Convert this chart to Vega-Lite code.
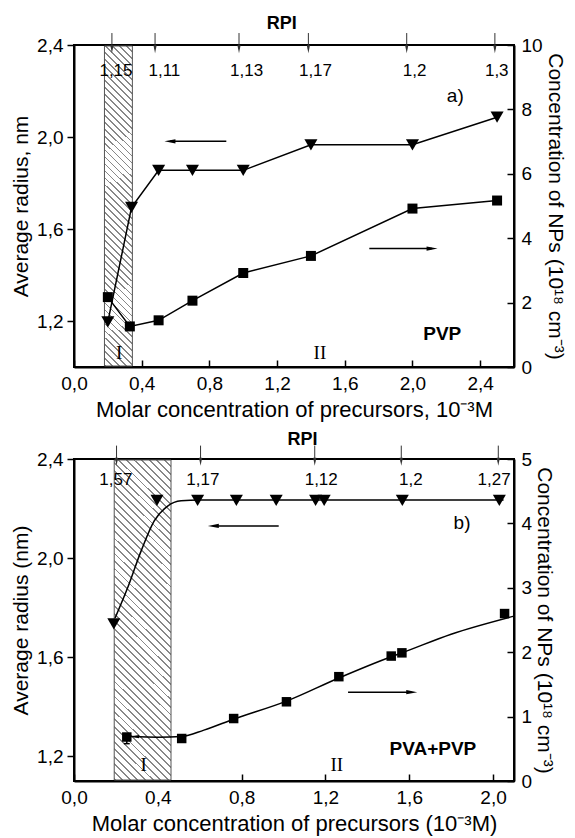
{
"$schema": "https://vega.github.io/schema/vega-lite/v6.json",
"background": "white",
"padding": {"left": 9, "top": 14, "right": 2, "bottom": 2},
"spacing": 92,
"bounds": "flush",
"config": {
 "font": "Liberation Sans",
 "view": {"stroke": "black", "strokeWidth": 2, "fill": "white"},
 "axis": {"domainColor": "black", "domainWidth": 2, "tickColor": "black", "tickWidth": 1.5, "labelColor": "black", "titleColor": "black", "labelFont": "Liberation Sans", "titleFont": "Liberation Sans", "labelFontSize": 19, "titleFontSize": 21, "titleFontWeight": "normal", "grid": false, "labelFlush": false, "labelOverlap": false, "zindex": 1},
 "text": {"font": "Liberation Sans", "color": "black"}
},
"datasets": {
 "triA": [{"c":0.2,"r":1.196},{"c":0.34,"r":1.694},{"c":0.5,"r":1.855},{"c":0.7,"r":1.855},{"c":1.0,"r":1.855},{"c":1.4,"r":1.966},{"c":2.0,"r":1.966},{"c":2.5,"r":2.086}],
 "sqA": [{"c":0.2,"n":2.17},{"c":0.33,"n":1.26},{"c":0.5,"n":1.45},{"c":0.7,"n":2.06},{"c":1.0,"n":2.92},{"c":1.4,"n":3.45},{"c":2.0,"n":4.92},{"c":2.5,"n":5.17}],
 "rpiA": [{"x":0.224,"lx":0.248,"label":"1,15"},{"x":0.479,"lx":0.534,"label":"1,11"},{"x":0.975,"lx":1.02,"label":"1,13"},{"x":1.385,"lx":1.427,"label":"1,17"},{"x":1.966,"lx":2.013,"label":"1,2"},{"x":2.487,"lx":2.498,"label":"1,3"}],
 "triB": [{"c":0.19,"r":1.734},{"c":0.396,"r":2.233},{"c":0.59,"r":2.233},{"c":0.775,"r":2.233},{"c":0.965,"r":2.233},{"c":1.153,"r":2.233},{"c":1.194,"r":2.233},{"c":1.567,"r":2.233},{"c":2.03,"r":2.233}],
 "triFitB": [{"c":0.196,"r":1.758},{"c":0.256,"r":1.88},{"c":0.32,"r":2.028},{"c":0.383,"r":2.15},{"c":0.447,"r":2.21},{"c":0.511,"r":2.231},{"c":0.6,"r":2.234},{"c":2.05,"r":2.234}],
 "sqB": [{"c":0.252,"n":0.683},{"c":0.514,"n":0.66},{"c":0.762,"n":0.97},{"c":1.014,"n":1.23},{"c":1.264,"n":1.62},{"c":1.514,"n":1.94},{"c":1.565,"n":1.99},{"c":2.055,"n":2.6}],
 "sqFitB": [{"c":0.272,"n":0.69},{"c":0.4,"n":0.68},{"c":0.514,"n":0.69},{"c":0.62,"n":0.79},{"c":0.762,"n":0.96},{"c":1.014,"n":1.24},{"c":1.264,"n":1.6},{"c":1.514,"n":1.93},{"c":1.565,"n":1.99},{"c":1.8,"n":2.28},{"c":2.1,"n":2.56}],
 "rpiB": [{"x":0.203,"lx":0.2,"label":"1,57"},{"x":0.604,"lx":0.615,"label":"1,17"},{"x":1.149,"lx":1.18,"label":"1,12"},{"x":1.562,"lx":1.608,"label":"1,2"},{"x":2.025,"lx":2.005,"label":"1,27"}]
},
"vconcat": [
{
 "width": 440, "height": 322,
 "layer": [
  {"layer": [
   {"data": {"values": [{"s":0.18,"e":0.345}]},
    "mark": {"type": "rect", "stroke": "#555", "strokeWidth": 1, "fill": {"gradient": "linear", "x1": 0, "y1": 1, "x2": 0.1117, "y2": -0.294, "stops": [
{"offset":0,"color":"#888"},{"offset":0.0042,"color":"#888"},{"offset":0.0042,"color":"#fff"},{"offset":0.0167,"color":"#fff"},
{"offset":0.0167,"color":"#888"},{"offset":0.0208,"color":"#888"},{"offset":0.0208,"color":"#fff"},{"offset":0.0333,"color":"#fff"},
{"offset":0.0333,"color":"#888"},{"offset":0.0375,"color":"#888"},{"offset":0.0375,"color":"#fff"},{"offset":0.05,"color":"#fff"},
{"offset":0.05,"color":"#888"},{"offset":0.0542,"color":"#888"},{"offset":0.0542,"color":"#fff"},{"offset":0.0667,"color":"#fff"},
{"offset":0.0667,"color":"#888"},{"offset":0.0708,"color":"#888"},{"offset":0.0708,"color":"#fff"},{"offset":0.0833,"color":"#fff"},
{"offset":0.0833,"color":"#888"},{"offset":0.0875,"color":"#888"},{"offset":0.0875,"color":"#fff"},{"offset":0.1,"color":"#fff"},
{"offset":0.1,"color":"#888"},{"offset":0.1042,"color":"#888"},{"offset":0.1042,"color":"#fff"},{"offset":0.1167,"color":"#fff"},
{"offset":0.1167,"color":"#888"},{"offset":0.1208,"color":"#888"},{"offset":0.1208,"color":"#fff"},{"offset":0.1333,"color":"#fff"},
{"offset":0.1333,"color":"#888"},{"offset":0.1375,"color":"#888"},{"offset":0.1375,"color":"#fff"},{"offset":0.15,"color":"#fff"},
{"offset":0.15,"color":"#888"},{"offset":0.1542,"color":"#888"},{"offset":0.1542,"color":"#fff"},{"offset":0.1667,"color":"#fff"},
{"offset":0.1667,"color":"#888"},{"offset":0.1708,"color":"#888"},{"offset":0.1708,"color":"#fff"},{"offset":0.1833,"color":"#fff"},
{"offset":0.1833,"color":"#888"},{"offset":0.1875,"color":"#888"},{"offset":0.1875,"color":"#fff"},{"offset":0.2,"color":"#fff"},
{"offset":0.2,"color":"#888"},{"offset":0.2042,"color":"#888"},{"offset":0.2042,"color":"#fff"},{"offset":0.2167,"color":"#fff"},
{"offset":0.2167,"color":"#888"},{"offset":0.2208,"color":"#888"},{"offset":0.2208,"color":"#fff"},{"offset":0.2333,"color":"#fff"},
{"offset":0.2333,"color":"#888"},{"offset":0.2375,"color":"#888"},{"offset":0.2375,"color":"#fff"},{"offset":0.25,"color":"#fff"},
{"offset":0.25,"color":"#888"},{"offset":0.2542,"color":"#888"},{"offset":0.2542,"color":"#fff"},{"offset":0.2667,"color":"#fff"},
{"offset":0.2667,"color":"#888"},{"offset":0.2708,"color":"#888"},{"offset":0.2708,"color":"#fff"},{"offset":0.2833,"color":"#fff"},
{"offset":0.2833,"color":"#888"},{"offset":0.2875,"color":"#888"},{"offset":0.2875,"color":"#fff"},{"offset":0.3,"color":"#fff"},
{"offset":0.3,"color":"#888"},{"offset":0.3042,"color":"#888"},{"offset":0.3042,"color":"#fff"},{"offset":0.3167,"color":"#fff"},
{"offset":0.3167,"color":"#888"},{"offset":0.3208,"color":"#888"},{"offset":0.3208,"color":"#fff"},{"offset":0.3333,"color":"#fff"},
{"offset":0.3333,"color":"#888"},{"offset":0.3375,"color":"#888"},{"offset":0.3375,"color":"#fff"},{"offset":0.35,"color":"#fff"},
{"offset":0.35,"color":"#888"},{"offset":0.3542,"color":"#888"},{"offset":0.3542,"color":"#fff"},{"offset":0.3667,"color":"#fff"},
{"offset":0.3667,"color":"#888"},{"offset":0.3708,"color":"#888"},{"offset":0.3708,"color":"#fff"},{"offset":0.3833,"color":"#fff"},
{"offset":0.3833,"color":"#888"},{"offset":0.3875,"color":"#888"},{"offset":0.3875,"color":"#fff"},{"offset":0.4,"color":"#fff"},
{"offset":0.4,"color":"#888"},{"offset":0.4042,"color":"#888"},{"offset":0.4042,"color":"#fff"},{"offset":0.4167,"color":"#fff"},
{"offset":0.4167,"color":"#888"},{"offset":0.4208,"color":"#888"},{"offset":0.4208,"color":"#fff"},{"offset":0.4333,"color":"#fff"},
{"offset":0.4333,"color":"#888"},{"offset":0.4375,"color":"#888"},{"offset":0.4375,"color":"#fff"},{"offset":0.45,"color":"#fff"},
{"offset":0.45,"color":"#888"},{"offset":0.4542,"color":"#888"},{"offset":0.4542,"color":"#fff"},{"offset":0.4667,"color":"#fff"},
{"offset":0.4667,"color":"#888"},{"offset":0.4708,"color":"#888"},{"offset":0.4708,"color":"#fff"},{"offset":0.4833,"color":"#fff"},
{"offset":0.4833,"color":"#888"},{"offset":0.4875,"color":"#888"},{"offset":0.4875,"color":"#fff"},{"offset":0.5,"color":"#fff"},
{"offset":0.5,"color":"#888"},{"offset":0.5042,"color":"#888"},{"offset":0.5042,"color":"#fff"},{"offset":0.5167,"color":"#fff"},
{"offset":0.5167,"color":"#888"},{"offset":0.5208,"color":"#888"},{"offset":0.5208,"color":"#fff"},{"offset":0.5333,"color":"#fff"},
{"offset":0.5333,"color":"#888"},{"offset":0.5375,"color":"#888"},{"offset":0.5375,"color":"#fff"},{"offset":0.55,"color":"#fff"},
{"offset":0.55,"color":"#888"},{"offset":0.5542,"color":"#888"},{"offset":0.5542,"color":"#fff"},{"offset":0.5667,"color":"#fff"},
{"offset":0.5667,"color":"#888"},{"offset":0.5708,"color":"#888"},{"offset":0.5708,"color":"#fff"},{"offset":0.5833,"color":"#fff"},
{"offset":0.5833,"color":"#888"},{"offset":0.5875,"color":"#888"},{"offset":0.5875,"color":"#fff"},{"offset":0.6,"color":"#fff"},
{"offset":0.6,"color":"#888"},{"offset":0.6042,"color":"#888"},{"offset":0.6042,"color":"#fff"},{"offset":0.6167,"color":"#fff"},
{"offset":0.6167,"color":"#888"},{"offset":0.6208,"color":"#888"},{"offset":0.6208,"color":"#fff"},{"offset":0.6333,"color":"#fff"},
{"offset":0.6333,"color":"#888"},{"offset":0.6375,"color":"#888"},{"offset":0.6375,"color":"#fff"},{"offset":0.65,"color":"#fff"},
{"offset":0.65,"color":"#888"},{"offset":0.6542,"color":"#888"},{"offset":0.6542,"color":"#fff"},{"offset":0.6667,"color":"#fff"},
{"offset":0.6667,"color":"#888"},{"offset":0.6708,"color":"#888"},{"offset":0.6708,"color":"#fff"},{"offset":0.6833,"color":"#fff"},
{"offset":0.6833,"color":"#888"},{"offset":0.6875,"color":"#888"},{"offset":0.6875,"color":"#fff"},{"offset":0.7,"color":"#fff"},
{"offset":0.7,"color":"#888"},{"offset":0.7042,"color":"#888"},{"offset":0.7042,"color":"#fff"},{"offset":0.7167,"color":"#fff"},
{"offset":0.7167,"color":"#888"},{"offset":0.7208,"color":"#888"},{"offset":0.7208,"color":"#fff"},{"offset":0.7333,"color":"#fff"},
{"offset":0.7333,"color":"#888"},{"offset":0.7375,"color":"#888"},{"offset":0.7375,"color":"#fff"},{"offset":0.75,"color":"#fff"},
{"offset":0.75,"color":"#888"},{"offset":0.7542,"color":"#888"},{"offset":0.7542,"color":"#fff"},{"offset":0.7667,"color":"#fff"},
{"offset":0.7667,"color":"#888"},{"offset":0.7708,"color":"#888"},{"offset":0.7708,"color":"#fff"},{"offset":0.7833,"color":"#fff"},
{"offset":0.7833,"color":"#888"},{"offset":0.7875,"color":"#888"},{"offset":0.7875,"color":"#fff"},{"offset":0.8,"color":"#fff"},
{"offset":0.8,"color":"#888"},{"offset":0.8042,"color":"#888"},{"offset":0.8042,"color":"#fff"},{"offset":0.8167,"color":"#fff"},
{"offset":0.8167,"color":"#888"},{"offset":0.8208,"color":"#888"},{"offset":0.8208,"color":"#fff"},{"offset":0.8333,"color":"#fff"},
{"offset":0.8333,"color":"#888"},{"offset":0.8375,"color":"#888"},{"offset":0.8375,"color":"#fff"},{"offset":0.85,"color":"#fff"},
{"offset":0.85,"color":"#888"},{"offset":0.8542,"color":"#888"},{"offset":0.8542,"color":"#fff"},{"offset":0.8667,"color":"#fff"},
{"offset":0.8667,"color":"#888"},{"offset":0.8708,"color":"#888"},{"offset":0.8708,"color":"#fff"},{"offset":0.8833,"color":"#fff"},
{"offset":0.8833,"color":"#888"},{"offset":0.8875,"color":"#888"},{"offset":0.8875,"color":"#fff"},{"offset":0.9,"color":"#fff"},
{"offset":0.9,"color":"#888"},{"offset":0.9042,"color":"#888"},{"offset":0.9042,"color":"#fff"},{"offset":0.9167,"color":"#fff"},
{"offset":0.9167,"color":"#888"},{"offset":0.9208,"color":"#888"},{"offset":0.9208,"color":"#fff"},{"offset":0.9333,"color":"#fff"},
{"offset":0.9333,"color":"#888"},{"offset":0.9375,"color":"#888"},{"offset":0.9375,"color":"#fff"},{"offset":0.95,"color":"#fff"},
{"offset":0.95,"color":"#888"},{"offset":0.9542,"color":"#888"},{"offset":0.9542,"color":"#fff"},{"offset":0.9667,"color":"#fff"},
{"offset":0.9667,"color":"#888"},{"offset":0.9708,"color":"#888"},{"offset":0.9708,"color":"#fff"},{"offset":0.9833,"color":"#fff"},
{"offset":0.9833,"color":"#888"},{"offset":0.9875,"color":"#888"},{"offset":0.9875,"color":"#fff"},{"offset":1,"color":"#fff"}
]}},
    "encoding": {"x": {"field": "s", "type": "quantitative", "scale": {"domain": [0, 2.6], "nice": false, "zero": false}}, "x2": {"field": "e"}, "y": {"datum": 2.3957}, "y2": {"datum": 1.0043}}},
   {"data": {"name": "triA"}, "mark": {"type": "line", "color": "black", "strokeWidth": 1.5},
    "encoding": {
     "x": {"field": "c", "type": "quantitative", "scale": {"domain": [0, 2.6], "nice": false, "zero": false},
       "axis": {"values": [0, 0.4, 0.8, 1.2, 1.6, 2, 2.4], "labelExpr": "replace(format(datum.value,'.1f'),'.',',')", "tickSize": -7, "labelPadding": 14, "title": "Molar concentration of precursors, 10⁻³M", "titlePadding": 6, "titleFontSize": 22}},
     "y": {"field": "r", "type": "quantitative", "scale": {"domain": [1, 2.4], "nice": false, "zero": false},
       "axis": {"values": [1.2, 1.6, 2, 2.4], "labelExpr": "replace(format(datum.value,'.1f'),'.',',')", "tickSize": 7, "labelPadding": 4, "title": "Average radius, nm", "titlePadding": 5}}}},
   {"data": {"name": "triA"}, "mark": {"type": "point", "shape": "triangle-down", "filled": true, "color": "black", "opacity": 1, "size": 170},
    "encoding": {"x": {"field": "c", "type": "quantitative"}, "y": {"field": "r", "type": "quantitative"}}},
   {"data": {"values": [{}]}, "mark": {"type": "rule", "color": "black", "strokeWidth": 1.5},
    "encoding": {"x": {"datum": 0.567}, "x2": {"datum": 0.9}, "y": {"datum": 1.981}}},
   {"data": {"values": [{}]}, "mark": {"type": "point", "shape": "M-1,0L1,-0.4L1,0.4Z", "filled": true, "color": "black", "opacity": 1, "size": 121},
    "encoding": {"x": {"datum": 0.567}, "y": {"datum": 1.981}}},
   {"data": {"name": "rpiA"}, "mark": {"type": "rule", "color": "#333", "strokeWidth": 1},
    "encoding": {"x": {"field": "x", "type": "quantitative"}, "y": {"datum": 2.452}, "y2": {"datum": 2.382}}},
   {"data": {"name": "rpiA"}, "mark": {"type": "point", "shape": "M0,1L-0.4,-1L0.4,-1Z", "filled": true, "color": "#333", "opacity": 1, "size": 64},
    "encoding": {"x": {"field": "x", "type": "quantitative"}, "y": {"datum": 2.382}}},
   {"data": {"name": "rpiA"}, "mark": {"type": "text", "fontSize": 17, "align": "center", "baseline": "middle"},
    "encoding": {"x": {"field": "lx", "type": "quantitative"}, "y": {"datum": 2.287}, "text": {"field": "label"}}},
   {"data": {"values": [{}]}, "mark": {"type": "text", "text": "a)", "fontSize": 19},
    "encoding": {"x": {"datum": 2.253}, "y": {"datum": 2.177}}},
   {"data": {"values": [{}]}, "mark": {"type": "text", "text": "PVP", "fontSize": 19, "fontWeight": "bold"},
    "encoding": {"x": {"datum": 2.176}, "y": {"datum": 1.142}}},
   {"data": {"values": [{}]}, "mark": {"type": "text", "text": "I", "fontSize": 19, "font": "Liberation Serif"},
    "encoding": {"x": {"datum": 0.267}, "y": {"datum": 1.061}}},
   {"data": {"values": [{}]}, "mark": {"type": "text", "text": "II", "fontSize": 19, "font": "Liberation Serif"},
    "encoding": {"x": {"datum": 1.453}, "y": {"datum": 1.061}}},
   {"data": {"values": [{}]}, "mark": {"type": "text", "text": "RPI", "fontSize": 18, "fontWeight": "bold"},
    "encoding": {"x": {"datum": 1.227}, "y": {"datum": 2.49}}}
  ]},
  {"layer": [
   {"data": {"name": "sqA"}, "mark": {"type": "line", "color": "black", "strokeWidth": 1.5},
    "encoding": {"x": {"field": "c", "type": "quantitative"},
     "y": {"field": "n", "type": "quantitative", "scale": {"domain": [0, 10], "nice": false, "zero": false},
       "axis": {"orient": "right", "values": [0, 2, 4, 6, 8, 10], "format": "d", "tickSize": -7, "labelPadding": 14, "title": "Concentration of NPs (10¹⁸ cm⁻³)", "titlePadding": 2}}}},
   {"data": {"name": "sqA"}, "mark": {"type": "point", "shape": "square", "filled": true, "color": "black", "opacity": 1, "size": 100},
    "encoding": {"x": {"field": "c", "type": "quantitative"}, "y": {"field": "n", "type": "quantitative"}}},
   {"data": {"values": [{}]}, "mark": {"type": "rule", "color": "black", "strokeWidth": 1.5},
    "encoding": {"x": {"datum": 1.745}, "x2": {"datum": 2.116}, "y": {"datum": 3.677}}},
   {"data": {"values": [{}]}, "mark": {"type": "point", "shape": "M1,0L-1,-0.4L-1,0.4Z", "filled": true, "color": "black", "opacity": 1, "size": 121},
    "encoding": {"x": {"datum": 2.116}, "y": {"datum": 3.677}}}
  ]}
 ],
 "resolve": {"scale": {"y": "independent"}}
},
{
 "width": 440, "height": 322,
 "layer": [
  {"layer": [
   {"data": {"values": [{"s":0.192,"e":0.463}]},
    "mark": {"type": "rect", "stroke": "#555", "strokeWidth": 1, "fill": {"gradient": "linear", "x1": 0, "y1": 1, "x2": 0.2411, "y2": -0.3688, "stops": [
{"offset":0,"color":"#888"},{"offset":0.0042,"color":"#888"},{"offset":0.0042,"color":"#fff"},{"offset":0.0167,"color":"#fff"},
{"offset":0.0167,"color":"#888"},{"offset":0.0208,"color":"#888"},{"offset":0.0208,"color":"#fff"},{"offset":0.0333,"color":"#fff"},
{"offset":0.0333,"color":"#888"},{"offset":0.0375,"color":"#888"},{"offset":0.0375,"color":"#fff"},{"offset":0.05,"color":"#fff"},
{"offset":0.05,"color":"#888"},{"offset":0.0542,"color":"#888"},{"offset":0.0542,"color":"#fff"},{"offset":0.0667,"color":"#fff"},
{"offset":0.0667,"color":"#888"},{"offset":0.0708,"color":"#888"},{"offset":0.0708,"color":"#fff"},{"offset":0.0833,"color":"#fff"},
{"offset":0.0833,"color":"#888"},{"offset":0.0875,"color":"#888"},{"offset":0.0875,"color":"#fff"},{"offset":0.1,"color":"#fff"},
{"offset":0.1,"color":"#888"},{"offset":0.1042,"color":"#888"},{"offset":0.1042,"color":"#fff"},{"offset":0.1167,"color":"#fff"},
{"offset":0.1167,"color":"#888"},{"offset":0.1208,"color":"#888"},{"offset":0.1208,"color":"#fff"},{"offset":0.1333,"color":"#fff"},
{"offset":0.1333,"color":"#888"},{"offset":0.1375,"color":"#888"},{"offset":0.1375,"color":"#fff"},{"offset":0.15,"color":"#fff"},
{"offset":0.15,"color":"#888"},{"offset":0.1542,"color":"#888"},{"offset":0.1542,"color":"#fff"},{"offset":0.1667,"color":"#fff"},
{"offset":0.1667,"color":"#888"},{"offset":0.1708,"color":"#888"},{"offset":0.1708,"color":"#fff"},{"offset":0.1833,"color":"#fff"},
{"offset":0.1833,"color":"#888"},{"offset":0.1875,"color":"#888"},{"offset":0.1875,"color":"#fff"},{"offset":0.2,"color":"#fff"},
{"offset":0.2,"color":"#888"},{"offset":0.2042,"color":"#888"},{"offset":0.2042,"color":"#fff"},{"offset":0.2167,"color":"#fff"},
{"offset":0.2167,"color":"#888"},{"offset":0.2208,"color":"#888"},{"offset":0.2208,"color":"#fff"},{"offset":0.2333,"color":"#fff"},
{"offset":0.2333,"color":"#888"},{"offset":0.2375,"color":"#888"},{"offset":0.2375,"color":"#fff"},{"offset":0.25,"color":"#fff"},
{"offset":0.25,"color":"#888"},{"offset":0.2542,"color":"#888"},{"offset":0.2542,"color":"#fff"},{"offset":0.2667,"color":"#fff"},
{"offset":0.2667,"color":"#888"},{"offset":0.2708,"color":"#888"},{"offset":0.2708,"color":"#fff"},{"offset":0.2833,"color":"#fff"},
{"offset":0.2833,"color":"#888"},{"offset":0.2875,"color":"#888"},{"offset":0.2875,"color":"#fff"},{"offset":0.3,"color":"#fff"},
{"offset":0.3,"color":"#888"},{"offset":0.3042,"color":"#888"},{"offset":0.3042,"color":"#fff"},{"offset":0.3167,"color":"#fff"},
{"offset":0.3167,"color":"#888"},{"offset":0.3208,"color":"#888"},{"offset":0.3208,"color":"#fff"},{"offset":0.3333,"color":"#fff"},
{"offset":0.3333,"color":"#888"},{"offset":0.3375,"color":"#888"},{"offset":0.3375,"color":"#fff"},{"offset":0.35,"color":"#fff"},
{"offset":0.35,"color":"#888"},{"offset":0.3542,"color":"#888"},{"offset":0.3542,"color":"#fff"},{"offset":0.3667,"color":"#fff"},
{"offset":0.3667,"color":"#888"},{"offset":0.3708,"color":"#888"},{"offset":0.3708,"color":"#fff"},{"offset":0.3833,"color":"#fff"},
{"offset":0.3833,"color":"#888"},{"offset":0.3875,"color":"#888"},{"offset":0.3875,"color":"#fff"},{"offset":0.4,"color":"#fff"},
{"offset":0.4,"color":"#888"},{"offset":0.4042,"color":"#888"},{"offset":0.4042,"color":"#fff"},{"offset":0.4167,"color":"#fff"},
{"offset":0.4167,"color":"#888"},{"offset":0.4208,"color":"#888"},{"offset":0.4208,"color":"#fff"},{"offset":0.4333,"color":"#fff"},
{"offset":0.4333,"color":"#888"},{"offset":0.4375,"color":"#888"},{"offset":0.4375,"color":"#fff"},{"offset":0.45,"color":"#fff"},
{"offset":0.45,"color":"#888"},{"offset":0.4542,"color":"#888"},{"offset":0.4542,"color":"#fff"},{"offset":0.4667,"color":"#fff"},
{"offset":0.4667,"color":"#888"},{"offset":0.4708,"color":"#888"},{"offset":0.4708,"color":"#fff"},{"offset":0.4833,"color":"#fff"},
{"offset":0.4833,"color":"#888"},{"offset":0.4875,"color":"#888"},{"offset":0.4875,"color":"#fff"},{"offset":0.5,"color":"#fff"},
{"offset":0.5,"color":"#888"},{"offset":0.5042,"color":"#888"},{"offset":0.5042,"color":"#fff"},{"offset":0.5167,"color":"#fff"},
{"offset":0.5167,"color":"#888"},{"offset":0.5208,"color":"#888"},{"offset":0.5208,"color":"#fff"},{"offset":0.5333,"color":"#fff"},
{"offset":0.5333,"color":"#888"},{"offset":0.5375,"color":"#888"},{"offset":0.5375,"color":"#fff"},{"offset":0.55,"color":"#fff"},
{"offset":0.55,"color":"#888"},{"offset":0.5542,"color":"#888"},{"offset":0.5542,"color":"#fff"},{"offset":0.5667,"color":"#fff"},
{"offset":0.5667,"color":"#888"},{"offset":0.5708,"color":"#888"},{"offset":0.5708,"color":"#fff"},{"offset":0.5833,"color":"#fff"},
{"offset":0.5833,"color":"#888"},{"offset":0.5875,"color":"#888"},{"offset":0.5875,"color":"#fff"},{"offset":0.6,"color":"#fff"},
{"offset":0.6,"color":"#888"},{"offset":0.6042,"color":"#888"},{"offset":0.6042,"color":"#fff"},{"offset":0.6167,"color":"#fff"},
{"offset":0.6167,"color":"#888"},{"offset":0.6208,"color":"#888"},{"offset":0.6208,"color":"#fff"},{"offset":0.6333,"color":"#fff"},
{"offset":0.6333,"color":"#888"},{"offset":0.6375,"color":"#888"},{"offset":0.6375,"color":"#fff"},{"offset":0.65,"color":"#fff"},
{"offset":0.65,"color":"#888"},{"offset":0.6542,"color":"#888"},{"offset":0.6542,"color":"#fff"},{"offset":0.6667,"color":"#fff"},
{"offset":0.6667,"color":"#888"},{"offset":0.6708,"color":"#888"},{"offset":0.6708,"color":"#fff"},{"offset":0.6833,"color":"#fff"},
{"offset":0.6833,"color":"#888"},{"offset":0.6875,"color":"#888"},{"offset":0.6875,"color":"#fff"},{"offset":0.7,"color":"#fff"},
{"offset":0.7,"color":"#888"},{"offset":0.7042,"color":"#888"},{"offset":0.7042,"color":"#fff"},{"offset":0.7167,"color":"#fff"},
{"offset":0.7167,"color":"#888"},{"offset":0.7208,"color":"#888"},{"offset":0.7208,"color":"#fff"},{"offset":0.7333,"color":"#fff"},
{"offset":0.7333,"color":"#888"},{"offset":0.7375,"color":"#888"},{"offset":0.7375,"color":"#fff"},{"offset":0.75,"color":"#fff"},
{"offset":0.75,"color":"#888"},{"offset":0.7542,"color":"#888"},{"offset":0.7542,"color":"#fff"},{"offset":0.7667,"color":"#fff"},
{"offset":0.7667,"color":"#888"},{"offset":0.7708,"color":"#888"},{"offset":0.7708,"color":"#fff"},{"offset":0.7833,"color":"#fff"},
{"offset":0.7833,"color":"#888"},{"offset":0.7875,"color":"#888"},{"offset":0.7875,"color":"#fff"},{"offset":0.8,"color":"#fff"},
{"offset":0.8,"color":"#888"},{"offset":0.8042,"color":"#888"},{"offset":0.8042,"color":"#fff"},{"offset":0.8167,"color":"#fff"},
{"offset":0.8167,"color":"#888"},{"offset":0.8208,"color":"#888"},{"offset":0.8208,"color":"#fff"},{"offset":0.8333,"color":"#fff"},
{"offset":0.8333,"color":"#888"},{"offset":0.8375,"color":"#888"},{"offset":0.8375,"color":"#fff"},{"offset":0.85,"color":"#fff"},
{"offset":0.85,"color":"#888"},{"offset":0.8542,"color":"#888"},{"offset":0.8542,"color":"#fff"},{"offset":0.8667,"color":"#fff"},
{"offset":0.8667,"color":"#888"},{"offset":0.8708,"color":"#888"},{"offset":0.8708,"color":"#fff"},{"offset":0.8833,"color":"#fff"},
{"offset":0.8833,"color":"#888"},{"offset":0.8875,"color":"#888"},{"offset":0.8875,"color":"#fff"},{"offset":0.9,"color":"#fff"},
{"offset":0.9,"color":"#888"},{"offset":0.9042,"color":"#888"},{"offset":0.9042,"color":"#fff"},{"offset":0.9167,"color":"#fff"},
{"offset":0.9167,"color":"#888"},{"offset":0.9208,"color":"#888"},{"offset":0.9208,"color":"#fff"},{"offset":0.9333,"color":"#fff"},
{"offset":0.9333,"color":"#888"},{"offset":0.9375,"color":"#888"},{"offset":0.9375,"color":"#fff"},{"offset":0.95,"color":"#fff"},
{"offset":0.95,"color":"#888"},{"offset":0.9542,"color":"#888"},{"offset":0.9542,"color":"#fff"},{"offset":0.9667,"color":"#fff"},
{"offset":0.9667,"color":"#888"},{"offset":0.9708,"color":"#888"},{"offset":0.9708,"color":"#fff"},{"offset":0.9833,"color":"#fff"},
{"offset":0.9833,"color":"#888"},{"offset":0.9875,"color":"#888"},{"offset":0.9875,"color":"#fff"},{"offset":1,"color":"#fff"}
]}},
    "encoding": {"x": {"field": "s", "type": "quantitative", "scale": {"domain": [0, 2.1], "nice": false, "zero": false}}, "x2": {"field": "e"}, "y": {"datum": 2.396}, "y2": {"datum": 1.104}}},
   {"data": {"name": "triFitB"}, "mark": {"type": "line", "color": "black", "strokeWidth": 1.5, "interpolate": "monotone"},
    "encoding": {
     "x": {"field": "c", "type": "quantitative", "scale": {"domain": [0, 2.1], "nice": false, "zero": false},
       "axis": {"values": [0, 0.4, 0.8, 1.2, 1.6, 2], "labelExpr": "replace(format(datum.value,'.1f'),'.',',')", "tickSize": -7, "labelPadding": 14, "title": "Molar concentration of precursors (10⁻³M)", "titlePadding": 6, "titleFontSize": 22}},
     "y": {"field": "r", "type": "quantitative", "scale": {"domain": [1.1, 2.4], "nice": false, "zero": false},
       "axis": {"values": [1.2, 1.6, 2, 2.4], "labelExpr": "replace(format(datum.value,'.1f'),'.',',')", "tickSize": 7, "labelPadding": 4, "title": "Average radius (nm)", "titlePadding": 5}}}},
   {"data": {"name": "triB"}, "mark": {"type": "point", "shape": "triangle-down", "filled": true, "color": "black", "opacity": 1, "size": 170},
    "encoding": {"x": {"field": "c", "type": "quantitative"}, "y": {"field": "r", "type": "quantitative"}}},
   {"data": {"values": [{}]}, "mark": {"type": "rule", "color": "black", "strokeWidth": 1.5},
    "encoding": {"x": {"datum": 0.665}, "x2": {"datum": 0.977}, "y": {"datum": 2.13}}},
   {"data": {"values": [{}]}, "mark": {"type": "point", "shape": "M-1,0L1,-0.4L1,0.4Z", "filled": true, "color": "black", "opacity": 1, "size": 121},
    "encoding": {"x": {"datum": 0.665}, "y": {"datum": 2.13}}},
   {"data": {"name": "rpiB"}, "mark": {"type": "rule", "color": "#333", "strokeWidth": 1},
    "encoding": {"x": {"field": "x", "type": "quantitative"}, "y": {"datum": 2.454}, "y2": {"datum": 2.389}}},
   {"data": {"name": "rpiB"}, "mark": {"type": "point", "shape": "M0,1L-0.4,-1L0.4,-1Z", "filled": true, "color": "#333", "opacity": 1, "size": 64},
    "encoding": {"x": {"field": "x", "type": "quantitative"}, "y": {"datum": 2.389}}},
   {"data": {"name": "rpiB"}, "mark": {"type": "text", "fontSize": 17, "align": "center", "baseline": "middle"},
    "encoding": {"x": {"field": "lx", "type": "quantitative"}, "y": {"datum": 2.315}, "text": {"field": "label"}}},
   {"data": {"values": [{}]}, "mark": {"type": "text", "text": "b)", "fontSize": 19},
    "encoding": {"x": {"datum": 1.852}, "y": {"datum": 2.143}}},
   {"data": {"values": [{}]}, "mark": {"type": "text", "text": "PVA+PVP", "fontSize": 19, "fontWeight": "bold"},
    "encoding": {"x": {"datum": 1.713}, "y": {"datum": 1.231}}},
   {"data": {"values": [{}]}, "mark": {"type": "text", "text": "I", "fontSize": 19, "font": "Liberation Serif"},
    "encoding": {"x": {"datum": 0.332}, "y": {"datum": 1.164}}},
   {"data": {"values": [{}]}, "mark": {"type": "text", "text": "II", "fontSize": 19, "font": "Liberation Serif"},
    "encoding": {"x": {"datum": 1.254}, "y": {"datum": 1.164}}},
   {"data": {"values": [{}]}, "mark": {"type": "text", "text": "RPI", "fontSize": 18, "fontWeight": "bold"},
    "encoding": {"x": {"datum": 1.09}, "y": {"datum": 2.477}}}
  ]},
  {"layer": [
   {"data": {"name": "sqFitB"}, "mark": {"type": "line", "color": "black", "strokeWidth": 1.5, "interpolate": "monotone"},
    "encoding": {"x": {"field": "c", "type": "quantitative"},
     "y": {"field": "n", "type": "quantitative", "scale": {"domain": [0, 5], "nice": false, "zero": false},
       "axis": {"orient": "right", "values": [0, 1, 2, 3, 4, 5], "format": "d", "tickSize": -7, "labelPadding": 14, "title": "Concentration of NPs (10¹⁸ cm⁻³)", "titlePadding": 2}}}},
   {"data": {"name": "sqB"}, "mark": {"type": "point", "shape": "square", "filled": true, "color": "black", "opacity": 1, "size": 90},
    "encoding": {"x": {"field": "c", "type": "quantitative"}, "y": {"field": "n", "type": "quantitative"}}},
   {"data": {"values": [{}]}, "mark": {"type": "rule", "color": "black", "strokeWidth": 1.5},
    "encoding": {"x": {"datum": 0.252}, "y": {"datum": 0.683}, "y2": {"datum": 0.58}}},
   {"data": {"values": [{}]}, "mark": {"type": "rule", "color": "black", "strokeWidth": 1.5},
    "encoding": {"x": {"datum": 0.238}, "x2": {"datum": 0.266}, "y": {"datum": 0.58}}},
   {"data": {"values": [{}]}, "mark": {"type": "point", "shape": "M-1,0L1,-0.4L1,0.4Z", "filled": true, "color": "black", "opacity": 1, "size": 64},
    "encoding": {"x": {"datum": 0.291}, "y": {"datum": 0.69}}},
   {"data": {"values": [{}]}, "mark": {"type": "rule", "color": "black", "strokeWidth": 1.5},
    "encoding": {"x": {"datum": 1.308}, "x2": {"datum": 1.612}, "y": {"datum": 1.38}}},
   {"data": {"values": [{}]}, "mark": {"type": "point", "shape": "M1,0L-1,-0.4L-1,0.4Z", "filled": true, "color": "black", "opacity": 1, "size": 121},
    "encoding": {"x": {"datum": 1.612}, "y": {"datum": 1.38}}}
  ]}
 ],
 "resolve": {"scale": {"y": "independent"}}
}
]
}
